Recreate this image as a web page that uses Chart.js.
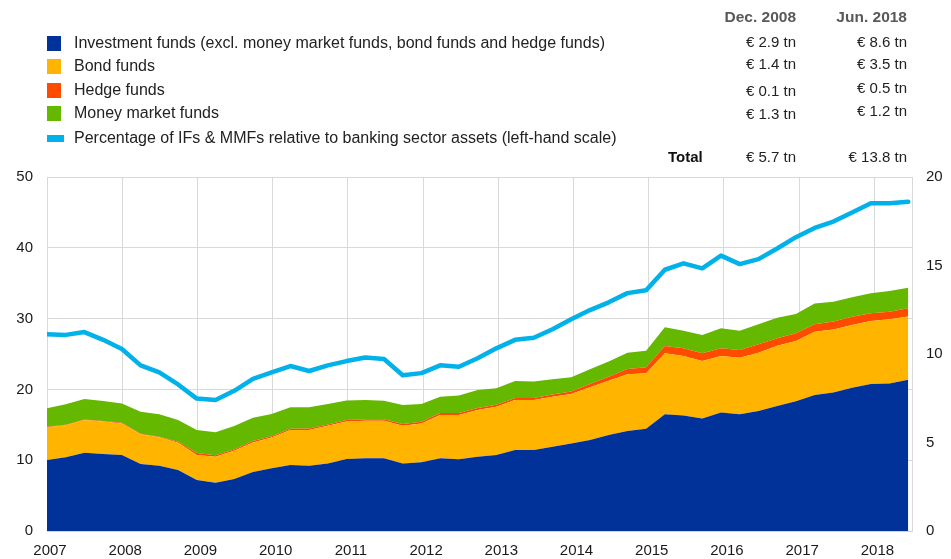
<!DOCTYPE html>
<html>
<head>
<meta charset="utf-8">
<script src="https://cdn.jsdelivr.net/npm/chart.js@4/dist/chart.umd.min.js"></script>
<style>
  html,body{margin:0;padding:0;background:#fff;}
  body{width:951px;height:559px;overflow:hidden;position:relative;font-family:"Liberation Sans",Arial,Helvetica,sans-serif;}
  #chartBox{position:absolute;left:0;top:0;width:951px;height:559px;}
  .t{position:absolute;font-size:15px;line-height:18px;color:#222;white-space:nowrap;}
  .lg{font-size:16px;}
  .sw{position:absolute;left:47px;width:14px;height:15px;}
  .r{text-align:right;}
  .hd{font-weight:bold;color:#595959;font-size:15.5px;}
  .tot{font-weight:bold;color:#111;}
</style>
</head>
<body>
<div id="chartBox"><canvas id="c" width="951" height="559"></canvas></div>

<!-- legend -->
<div class="sw" style="top:36px;background:#003299"></div>
<div class="t lg" style="left:74px;top:34px">Investment funds (excl. money market funds, bond funds and hedge funds)</div>
<div class="sw" style="top:59px;background:#FFB400"></div>
<div class="t lg" style="left:74px;top:57px">Bond funds</div>
<div class="sw" style="top:83px;background:#FF4B00"></div>
<div class="t lg" style="left:74px;top:81px">Hedge funds</div>
<div class="sw" style="top:106px;background:#65B800"></div>
<div class="t lg" style="left:74px;top:104px">Money market funds</div>
<div class="sw" style="top:135px;height:7px;width:17px;background:#00B1EA"></div>
<div class="t lg" style="left:74px;top:129px">Percentage of IFs &amp; MMFs relative to banking sector assets (left-hand scale)</div>

<!-- value table -->
<div class="t r hd" style="right:155px;top:8px">Dec. 2008</div>
<div class="t r hd" style="right:44px;top:8px">Jun. 2018</div>
<div id="tbl"></div>
<div class="t tot" style="left:668px;top:148px">Total</div>

<script>
// ---- categories (quarter ends) ----
const quarters = ["Dec 2006",
  "Mar 2007","Jun 2007","Sep 2007","Dec 2007",
  "Mar 2008","Jun 2008","Sep 2008","Dec 2008",
  "Mar 2009","Jun 2009","Sep 2009","Dec 2009",
  "Mar 2010","Jun 2010","Sep 2010","Dec 2010",
  "Mar 2011","Jun 2011","Sep 2011","Dec 2011",
  "Mar 2012","Jun 2012","Sep 2012","Dec 2012",
  "Mar 2013","Jun 2013","Sep 2013","Dec 2013",
  "Mar 2014","Jun 2014","Sep 2014","Dec 2014",
  "Mar 2015","Jun 2015","Sep 2015","Dec 2015",
  "Mar 2016","Jun 2016","Sep 2016","Dec 2016",
  "Mar 2017","Jun 2017","Sep 2017","Dec 2017",
  "Mar 2018","Jun 2018"];

// ---- series (EUR trillions, right-hand scale) ----
const investmentFunds = [4.01,4.16,4.42,4.35,4.29, 3.79,3.69,3.45,2.88,2.73, 2.94,3.33,3.54,3.73,3.69,
  3.82,4.07,4.11,4.11,3.82, 3.88,4.11,4.05,4.20,4.29, 4.58,4.58,4.76,4.95,5.14, 5.42,5.65,5.78,6.59,6.53,
  6.35,6.69,6.59,6.78,7.06, 7.33,7.68,7.82,8.10,8.31, 8.34,8.55];
const bondFunds = [1.85,1.81,1.85,1.83,1.79, 1.67,1.60,1.54,1.42,1.47, 1.59,1.67,1.74,1.97,2.02,
  2.12,2.11,2.12,2.12,2.13, 2.20,2.44,2.50,2.64,2.73, 2.82,2.82,2.83,2.79,2.98, 3.07,3.20,3.13,3.45,3.36,
  3.25,3.20,3.20,3.29,3.41, 3.40,3.58,3.57,3.54,3.55, 3.62,3.57];
const hedgeFunds = [0.03,0.03,0.03,0.03,0.03, 0.03,0.03,0.05,0.10,0.08, 0.08,0.08,0.08,0.08,0.08,
  0.08,0.09,0.09,0.09,0.09, 0.09,0.11,0.11,0.11,0.11, 0.11,0.11,0.12,0.14,0.18, 0.23,0.30,0.34,0.41,0.43,
  0.44,0.43,0.44,0.48,0.42, 0.44,0.42,0.44,0.47,0.44, 0.43,0.47];
const moneyMarketFunds = [1.04,1.16,1.16,1.13,1.10, 1.25,1.27,1.23,1.30,1.30, 1.32,1.32,1.25,1.21,1.20,
  1.16,1.10,1.08,1.04,1.08, 1.01,0.93,0.99,1.02,0.93, 0.96,0.93,0.86,0.80,0.84, 0.85,0.92,0.94,1.06,1.00,
  1.03,1.13,1.09,1.13,1.16, 1.09,1.18,1.12,1.09,1.13, 1.17,1.15];
// ---- percentage of IFs & MMFs relative to banking sector assets (left-hand scale) ----
const pctOfBankAssets = [27.8,27.7,28.1,27.0,25.7, 23.4,22.4,20.7,18.7,18.5, 19.8,21.5,22.4,23.3,22.6,
  23.4,24.0,24.5,24.3,22.0, 22.3,23.4,23.2,24.4,25.8, 27.0,27.3,28.5,29.9,31.2, 32.3,33.6,34.0,36.9,37.8,
  37.1,38.9,37.7,38.4,39.9, 41.5,42.8,43.7,45.0,46.3, 46.3,46.5];

// ---- axis ticks / table ----
const yearTicks = [2007,2008,2009,2010,2011,2012,2013,2014,2015,2016,2017,2018];
const leftTicks = [0,10,20,30,40,50];
const rightTicks = [0,5,10,15,20];
const tableDec2008 = ["€ 2.9 tn","€ 1.4 tn","€ 0.1 tn","€ 1.3 tn","€ 5.7 tn"];
const tableJun2018 = ["€ 8.6 tn","€ 3.5 tn","€ 0.5 tn","€ 1.2 tn","€ 13.8 tn"];

// table
const decTops = [33,55,82,105,148], junTops = [33,55,79,102,148];
const tbl = document.getElementById('tbl');
tableDec2008.forEach((s,i)=>{const d=document.createElement('div');d.className='t r';d.style.right='155px';d.style.top=decTops[i]+'px';d.textContent=s;tbl.appendChild(d);});
tableJun2018.forEach((s,i)=>{const d=document.createElement('div');d.className='t r';d.style.right='44px';d.style.top=junTops[i]+'px';d.textContent=s;tbl.appendChild(d);});

// x position of each quarter on a year axis
const X0 = 2007, XSTEP = 11.45 / (quarters.length - 1);
const pts = arr => arr.map((v,i)=>({x: X0 + i*XSTEP, y: v}));

const FONT = {family:'"Liberation Sans", Arial, sans-serif', size:15};
const GRID = '#d9d9d9';

new Chart(document.getElementById('c'), {
  type: 'line',
  data: {
    datasets: [
      {label:'Investment funds', data: pts(investmentFunds), yAxisID:'yR', backgroundColor:'#003299', borderWidth:0, pointRadius:0, fill:'origin', order:2},
      {label:'Bond funds', data: pts(bondFunds), yAxisID:'yR', backgroundColor:'#FFB400', borderWidth:0, pointRadius:0, fill:'-1', order:2},
      {label:'Hedge funds', data: pts(hedgeFunds), yAxisID:'yR', backgroundColor:'#FF4B00', borderWidth:0, pointRadius:0, fill:'-1', order:2},
      {label:'Money market funds', data: pts(moneyMarketFunds), yAxisID:'yR', backgroundColor:'#65B800', borderWidth:0, pointRadius:0, fill:'-1', order:2},
      {label:'Percentage', data: pts(pctOfBankAssets), yAxisID:'yL', borderColor:'#00B1EA', borderWidth:4.5, pointRadius:0, fill:false, tension:0, order:0, borderJoinStyle:'round', borderCapStyle:'round'}
    ]
  },
  options: {
    responsive:false, animation:false, devicePixelRatio:1,
    layout:{padding:{top:177,left:0,right:0,bottom:0}},
    plugins:{legend:{display:false}, tooltip:{enabled:false}},
    elements:{line:{tension:0}},
    scales:{
      x:{type:'linear', min:2007, max:2018.5,
        afterFit: s=>{s.height=28;},
        afterBuildTicks: s=>{ s.ticks = yearTicks.map(v=>({value:v})).concat([{value:2018.5}]); },
        ticks:{font:FONT, color:'#1a1a1a', padding:11, labelOffset:3, autoSkip:false, maxRotation:0,
          callback:v=> Number.isInteger(v) ? String(v) : ''},
        grid:{color:GRID, drawTicks:false},
        border:{color:'#cfd3dc'}
      },
      yL:{type:'linear', position:'left', min:0, max:50,
        afterFit: s=>{s.width=47;},
        afterBuildTicks: s=>{ s.ticks = leftTicks.map(v=>({value:v})); },
        ticks:{font:FONT, color:'#1a1a1a', padding:14},
        grid:{color:GRID, drawTicks:false},
        border:{color:GRID}
      },
      yR:{type:'linear', position:'right', min:0, max:20, stacked:true,
        afterFit: s=>{s.width=39;},
        afterBuildTicks: s=>{ s.ticks = rightTicks.map(v=>({value:v})); },
        ticks:{font:FONT, color:'#1a1a1a', padding:14},
        grid:{display:false, drawTicks:false},
        border:{color:GRID}
      }
    }
  }
});
</script>
</body>
</html>
